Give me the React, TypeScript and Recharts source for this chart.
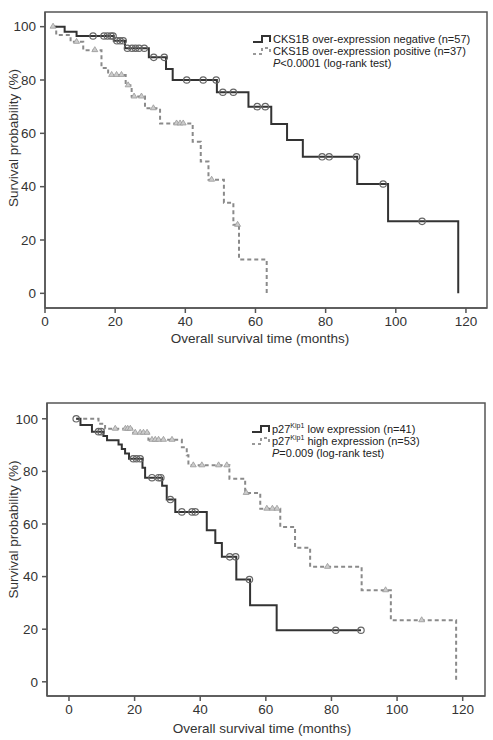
import React from 'react';
import { ComposedChart, Line, Scatter, XAxis, YAxis, ReferenceArea } from 'recharts';

const FONT = "'Liberation Sans', Arial, sans-serif";

const xTicks = [0, 20, 40, 60, 80, 100, 120];
const yTicks = [0, 20, 40, 60, 80, 100];

// top panel: CKS1B
const negTime = [2.5, 5.6, 9, 19.6, 22.8, 29.6, 34.5, 36.4, 49, 58, 64.5, 69, 73.5, 89, 97.8, 117.8];
const negSurv = [100, 98.1, 96.5, 94.7, 91.9, 88.5, 84.1, 80, 75.4, 70, 63.5, 57.5, 51.2, 41, 27, 0];
const negCensor = [13.7, 16.8, 17.8, 18.8, 19.4, 20.5, 21.4, 22.3, 23.5, 24.8, 25.8, 26.8, 28.3, 31, 34, 40.4, 45.1, 48.8, 50.7, 53.7, 60.5, 62.8, 79, 81, 88.8, 96.4, 107.5];

const posTime = [2.3, 3.2, 7.3, 10.9, 16.1, 18, 23, 24.7, 28.5, 32.8, 42.1, 44.4, 46.6, 51, 53.7, 55.3, 63.2];
const posSurv = [100, 96.9, 94.3, 91.2, 84.5, 81.9, 78, 73.8, 69.4, 63.7, 56.8, 49.4, 42.6, 34, 25.7, 12.7, 0];
const posCensor = [2.3, 9, 14.2, 19, 20.4, 21.8, 23.7, 25.4, 27.5, 30.9, 37.5, 38.5, 39.4, 47.5, 54.9];

// bottom panel: p27Kip1
const lowTime = [2.2, 3.5, 7, 10.5, 11.6, 15.1, 16.1, 17.1, 18.3, 22.4, 23.2, 28.4, 29.8, 32.4, 42, 44.6, 46.6, 51, 55.2, 63.3, 89];
const lowSurv = [100, 97.6, 95.1, 93.5, 91.8, 90.2, 88.5, 86.8, 84.8, 81.4, 77.6, 74.5, 69.3, 64.6, 57.6, 52.8, 47.5, 38.9, 29.1, 19.6, 19.6];
const lowCensor = [2.2, 9, 9.8, 19.6, 20.6, 21.7, 25.3, 27.3, 28, 30.9, 34.4, 37.5, 38.5, 49, 50.8, 55, 81.3, 89];

const highTime = [2.2, 9, 11, 19.2, 24.2, 34.4, 35.9, 36.4, 48.9, 53.7, 58.3, 64.4, 68.9, 73.5, 89.2, 98.1, 118];
const highSurv = [100, 98.1, 96.2, 94.7, 92, 89.2, 86.1, 82.3, 77.2, 71.8, 65.8, 58.9, 51, 43.7, 34.8, 23.4, 0];
const highCensor = [14.1, 17.2, 17.9, 18.7, 20.2, 21.7, 22.7, 23.8, 25.3, 26.3, 27.3, 28.8, 31.4, 37.9, 40.5, 45.6, 48.1, 54, 60.3, 62, 63.4, 78.8, 96.5, 107.5];

const steps = (time: number[], surv: number[]) => time.map((t, i) => ({ t, s: surv[i] }));

// censor marks sit on the curve: take the step value in force at that time
const marks = (censor: number[], time: number[], surv: number[]) =>
  censor.map((c) => {
    let s = surv[0];
    time.forEach((t, i) => {
      if (t <= c) s = surv[i];
    });
    return { t: c, s };
  });

const Circle = (p: any) => <circle cx={p.cx} cy={p.cy} r={3.2} fill="none" stroke="#666" strokeWidth={1.2} />;
const Tri = (p: any) => (
  <path d={`M${p.cx},${p.cy - 3.5}L${p.cx + 3},${p.cy + 1.5}L${p.cx - 3},${p.cy + 1.5}Z`} fill="#ccc" stroke="#999" strokeWidth={0.8} />
);

const SolidKey = () => (
  <svg width={20} height={10} style={{ verticalAlign: 'middle' }}>
    <path d="M1,8H10V2H18V8" fill="none" stroke="#333" strokeWidth={2} />
  </svg>
);
const DashKey = () => (
  <svg width={20} height={10} style={{ verticalAlign: 'middle' }}>
    <path d="M1,8H10V2H18V8" fill="none" stroke="#999" strokeWidth={2} strokeDasharray="3 3" />
  </svg>
);

type PanelProps = {
  top: number;
  height: number;
  marginTop: number;
  marginRight: number;
  xAxisHeight: number;
  yAxisWidth: number;
  xDomain: [number, number];
  yDomain: [number, number];
  solid: { t: number; s: number }[];
  dashed: { t: number; s: number }[];
  solidMarks: { t: number; s: number }[];
  dashedMarks: { t: number; s: number }[];
  legend: React.ReactNode[];
  legendPos: { left: number; top: number };
  xLabelShift: number;
  yLabelShift: number;
};

function Panel(props: PanelProps) {
  const axisStyle = { fontSize: 13.5, fill: '#333', fontFamily: FONT };
  return (
    <div style={{ position: 'absolute', left: 0, top: props.top, width: 493, height: props.height }}>
      <ComposedChart
        width={493}
        height={props.height}
        margin={{ top: props.marginTop, right: props.marginRight, bottom: 0, left: 0 }}
      >
        <XAxis
          dataKey="t"
          type="number"
          domain={props.xDomain}
          ticks={xTicks}
          allowDataOverflow
          height={props.xAxisHeight}
          stroke="#555"
          strokeWidth={1.5}
          tickSize={5}
          tickMargin={3}
          tick={axisStyle}
          label={({ viewBox }: any) => (
            <text
              x={viewBox.x + viewBox.width / 2 + props.xLabelShift}
              y={viewBox.y + viewBox.height - 7}
              textAnchor="middle"
              fontSize={13.5}
              fontFamily={FONT}
              fill="#333"
            >
              Overall survival time (months)
            </text>
          )}
        />
        <YAxis
          dataKey="s"
          type="number"
          domain={props.yDomain}
          ticks={yTicks}
          allowDataOverflow
          width={props.yAxisWidth}
          stroke="#555"
          strokeWidth={1.5}
          tickSize={5}
          tickMargin={4}
          tick={axisStyle}
          label={({ viewBox }: any) => {
            const cx = 13;
            const cy = viewBox.y + viewBox.height / 2 + props.yLabelShift;
            return (
              <text
                x={cx}
                y={cy}
                transform={`rotate(-90 ${cx} ${cy})`}
                textAnchor="middle"
                dominantBaseline="central"
                fontSize={13.5}
                fontFamily={FONT}
                fill="#333"
              >
                Survival probability (%)
              </text>
            );
          }}
        />
        <ReferenceArea
          x1={props.xDomain[0]}
          x2={props.xDomain[1]}
          y1={props.yDomain[0]}
          y2={props.yDomain[1]}
          fill="none"
          stroke="#555"
          strokeWidth={1.5}
          ifOverflow="visible"
        />
        <Line
          data={props.dashed}
          dataKey="s"
          type="stepAfter"
          stroke="#8a8a8a"
          strokeWidth={2}
          strokeDasharray="4 3"
          dot={false}
          isAnimationActive={false}
        />
        <Line
          data={props.solid}
          dataKey="s"
          type="stepAfter"
          stroke="#333"
          strokeWidth={2}
          dot={false}
          isAnimationActive={false}
        />
        <Scatter data={props.dashedMarks} dataKey="s" shape={Tri} isAnimationActive={false} />
        <Scatter data={props.solidMarks} dataKey="s" shape={Circle} isAnimationActive={false} />
      </ComposedChart>
      <div
        style={{
          position: 'absolute',
          left: props.legendPos.left,
          top: props.legendPos.top,
          fontFamily: FONT,
          fontSize: 11,
          color: '#222',
          lineHeight: '12px',
        }}
      >
        {props.legend.map((row, i) => (
          <div key={i} style={{ display: 'flex', alignItems: 'center', height: 12 }}>
            {i === 0 ? <SolidKey /> : i === 1 ? <DashKey /> : <span style={{ width: 20 }} />}
            <span style={{ marginLeft: 1, whiteSpace: 'nowrap' }}>{row}</span>
          </div>
        ))}
      </div>
    </div>
  );
}

const topLegend = [
  'CKS1B over-expression negative (n=57)',
  'CKS1B over-expression positive (n=37)',
  <>
    <i>P</i>&lt;0.0001 (log-rank test)
  </>,
];

const bottomLegend = [
  <>
    p27<sup style={{ fontSize: 7, lineHeight: 0 }}>Kip1</sup> low expression (n=41)
  </>,
  <>
    p27<sup style={{ fontSize: 7, lineHeight: 0 }}>Kip1</sup> high expression (n=53)
  </>,
  <>
    <i>P</i>=0.009 (log-rank test)
  </>,
];

export default function App() {
  return (
    <div style={{ position: 'absolute', left: 0, top: 0, width: 493, height: 740, background: '#fff' }}>
      <Panel
        top={0}
        height={350}
        marginTop={12}
        marginRight={6}
        xAxisHeight={42}
        yAxisWidth={45}
        xDomain={[0, 126]}
        yDomain={[-5.5, 105.5]}
        solid={steps(negTime, negSurv)}
        dashed={steps(posTime, posSurv)}
        solidMarks={marks(negCensor, negTime, negSurv)}
        dashedMarks={marks(posCensor, posTime, posSurv)}
        legend={topLegend}
        legendPos={{ left: 252, top: 33 }}
        xLabelShift={-6}
        yLabelShift={-22}
      />
      <Panel
        top={360}
        height={380}
        marginTop={43}
        marginRight={8}
        xAxisHeight={44}
        yAxisWidth={47}
        xDomain={[-6.7, 126.8]}
        yDomain={[-5.4, 106]}
        solid={steps(lowTime, lowSurv)}
        dashed={steps(highTime, highSurv)}
        solidMarks={marks(lowCensor, lowTime, lowSurv)}
        dashedMarks={marks(highCensor, highTime, highSurv)}
        legend={bottomLegend}
        legendPos={{ left: 251, top: 63 }}
        xLabelShift={-4}
        yLabelShift={-20}
      />
    </div>
  );
}
